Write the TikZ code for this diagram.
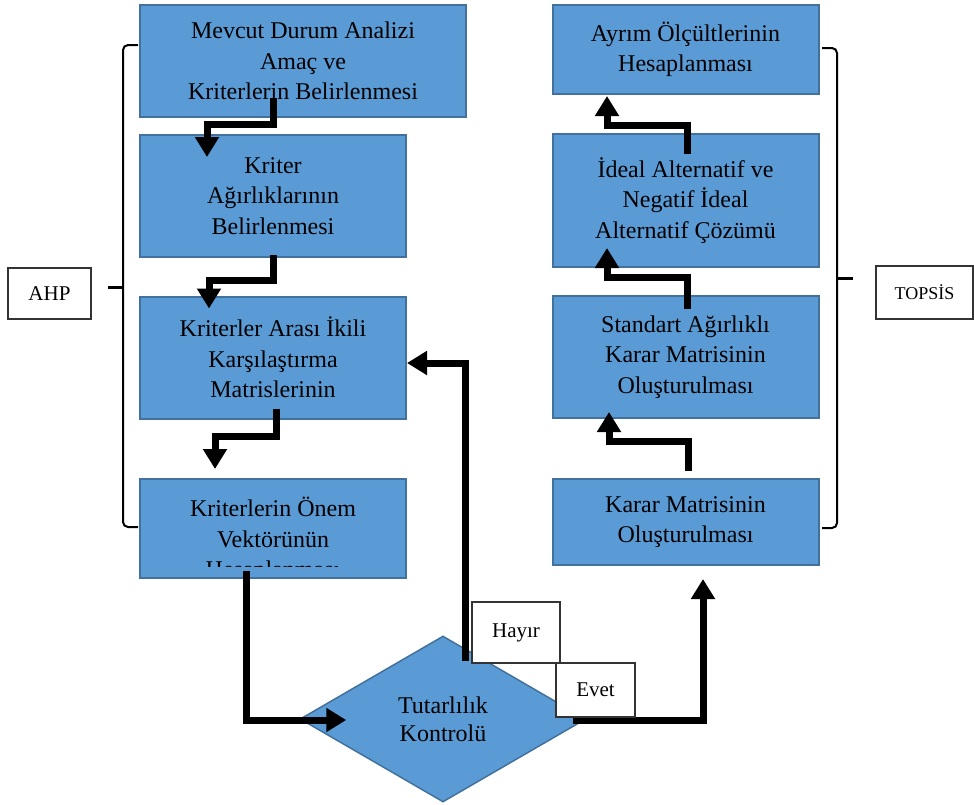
\documentclass[tikz,border=0pt]{standalone}
\usepackage{fontspec}
\setmainfont{Liberation Serif}
\usetikzlibrary{arrows.meta, positioning, shapes.geometric, calc}
\definecolor{kutumavi}{RGB}{91,155,213}
\definecolor{kutucizgi}{RGB}{65,113,156}
\tikzstyle{adim} = [draw=kutucizgi, fill=kutumavi, line width=2pt, rectangle, align=center, inner sep=3pt, font=\fontsize{24}{30.5}\selectfont]
\tikzstyle{adimyazi} = [align=center, inner sep=0pt, font=\fontsize{24}{30.5}\selectfont]
\tikzstyle{karar} = [draw=kutucizgi, fill=kutumavi, line width=1.5pt, diamond, aspect=1.72, inner sep=0pt, minimum width=286pt, minimum height=166pt, align=center, font=\fontsize{24}{28}\selectfont]
\tikzstyle{etiket} = [draw=black!80, fill=white, line width=1.2pt, rectangle, align=center, inner sep=0pt, font=\fontsize{21}{25}\selectfont]
\tikzstyle{akis} = [line width=7pt, line join=miter, -{Triangle[width=23pt,length=20pt]}]
\tikzstyle{ayrac} = [line width=2pt, rounded corners=5pt]

\begin{document}
\begin{tikzpicture}[x=1pt,y=-1pt]
		\useasboundingbox (0,0) rectangle (974,804);
		% AHP adimlari
		\node[adim, minimum width=326pt, minimum height=112pt] (mda) at (303,61) {Mevcut Durum Analizi\\Amaç ve\\Kriterlerin Belirlenmesi};
		\node[adim, minimum width=266pt, minimum height=122pt] (kab) at (273,196) {Kriter\\Ağırlıklarının\\Belirlenmesi};
		\node[adim, minimum width=266pt, minimum height=122pt] (kaik) at (273,357.5) {Kriterler Arası İkili\\Karşılaştırma\\Matrislerinin};
		\node[adim, minimum width=266pt, minimum height=99pt] (kov) at (273,528.5) {};
		\begin{scope}
			\clip (kov.north west) rectangle ([yshift=13pt]kov.south east);
			\node[adimyazi] (kovyazi) at ($(kov.north)+(0,62)$) {Kriterlerin Önem\\Vektörünün\\Hesaplanması};
		\end{scope}
		% TOPSIS adimlari
		\node[adim, minimum width=266pt, minimum height=89pt] (ayrim) at (685.5,49.5) {Ayrım Ölçültlerinin\\Hesaplanması};
		\node[adim, minimum width=266pt, minimum height=133pt] (ideal) at (685.5,200.5) {İdeal Alternatif ve\\Negatif İdeal\\Alternatif Çözümü};
		\node[adim, minimum width=266pt, minimum height=122pt] (standart) at (685.5,357) {Standart Ağırlıklı\\Karar Matrisinin\\Oluşturulması};
		\node[adim, minimum width=266pt, minimum height=86pt] (kmat) at (685.5,522) {Karar Matrisinin\\Oluşturulması};
		% tutarlilik
		\node[karar] (tutar) at (443,719) {Tutarlılık\\Kontrolü};
		% oklar
		\draw[akis] ([yshift=20pt]mda.south -| kab.north) |- ($(kab.north)+(-66,-10)$) -- ($(kab.north)+(-66,23)$);
		\draw[akis] ([yshift=3pt]kab.south) |- ($(kaik.north)+(-64,-15)$) -- ($(kaik.north)+(-64,13)$);
		\draw[akis] ([xshift=3pt,yshift=11pt]kaik.south) |- ($(kov.north)+(-58,-42)$) -- ($(kov.north)+(-58,-9)$);
		\draw[akis] ([xshift=-27pt,yshift=8pt]kov.south) |- ($(tutar.west)+(47,1)$);
		\draw[akis] ($(tutar.north)+(22,26)$) |- ([yshift=-5.5pt]kaik.east);
		\draw[akis] ($(tutar.east)+(-14,1)$) -| ([xshift=17.5pt,yshift=-13pt]kmat.south);
		\draw[akis] ($(kmat.north)+(2.5,-7)$) |- ($(kmat.north)+(-76.5,-37)$) -- ($(kmat.north)+(-76.5,-66)$);
		\draw[akis] ($(standart.north)+(1.5,14)$) |- ($(standart.north)+(-78.5,-18)$) -- ($(standart.north)+(-78.5,-47)$);
		\draw[akis] ($(ideal.north)+(1.5,21)$) |- ($(ideal.north)+(-78.5,-8)$) -- ($(ideal.north)+(-78.5,-37)$);
		% etiketler
		\node[etiket, minimum width=88pt, minimum height=61pt] (hayir) at (516,632.5) {Hayır};
		\node[etiket, minimum width=79pt, minimum height=54pt] (evet) at (595.5,690) {Evet};
		\node[etiket, minimum width=83pt, minimum height=51pt] (ahp) at (49.5,293.5) {AHP};
		\node[etiket, minimum width=97pt, minimum height=53pt, font=\fontsize{18}{22}\selectfont] (topsis) at (924.5,292.5) {TOPSİS};
		% ayraclar
		\draw[ayrac] (138,45) -- (123,45) -- (123,527) -- (138,527);
		\draw[line width=3pt] (123,287) -- (108,287);
		\draw[ayrac] (822,48) -- (837,48) -- (837,528) -- (822,528);
		\draw[line width=3pt] (837,278) -- (853,278);
	\end{tikzpicture}
\end{document}
